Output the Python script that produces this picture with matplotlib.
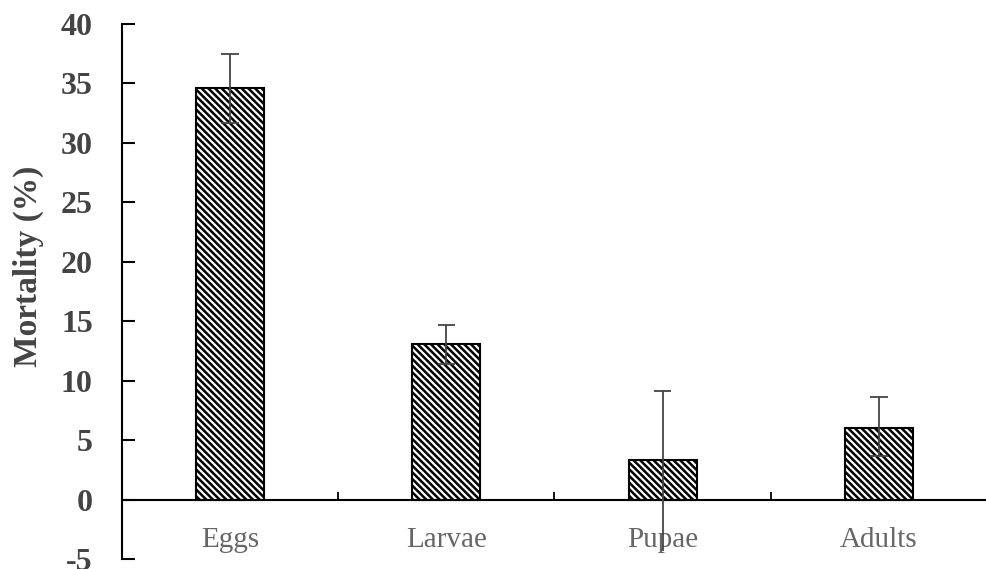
import numpy as np
import matplotlib.pyplot as plt

plt.rcParams['font.family'] = ['Liberation Serif', 'DejaVu Serif']
plt.rcParams['hatch.linewidth'] = 1.8

# mortality by stage
stages = ['Eggs', 'Larvae', 'Pupae', 'Adults']
mortality = [34.6, 13.05, 3.3, 6.0]
err_upper = [2.9, 1.65, 5.8, 2.6]
err_lower = [2.9, 1.65, 7.6, 2.35]

fig = plt.figure(figsize=(9.87, 5.69), dpi=100)
ax = fig.add_axes([0.1236, 0.0176, 0.8764, 0.9402])

x = np.arange(len(stages))
ax.bar(x, mortality, width=0.315, color='white', edgecolor='black',
       linewidth=1.5, hatch='\\\\\\\\\\', zorder=2)

# whiskers: the pupae one has no lower cap
upper = np.array(mortality) + np.array(err_upper)
lower = np.array(mortality) - np.array(err_lower)
ax.vlines(x, lower, upper, color='#444444', linewidth=1.3, zorder=3)
ax.hlines(upper, x - 0.04, x + 0.04, color='#444444', linewidth=1.3, zorder=3)
capped = [i for i in x if stages[i] != 'Pupae']
ax.hlines(lower[capped], x[capped] - 0.04, x[capped] + 0.04,
          color='#444444', linewidth=1.3, zorder=3)

ax.set_xlim(-0.5, 3.5)
ax.set_ylim(-5, 40)
ax.set_yticks(np.arange(-5, 41, 5))
ax.set_yticklabels([str(v) for v in range(-5, 41, 5)], fontsize=23,
                   fontweight='bold', color='#444444')

ax.spines['top'].set_visible(False)
ax.spines['right'].set_visible(False)
ax.spines['bottom'].set_position(('data', 0))
ax.spines['left'].set_linewidth(1.5)
ax.spines['bottom'].set_linewidth(1.5)

ax.tick_params(axis='y', direction='in', length=9, width=1.5, pad=21)
ax.set_xticks(np.arange(-0.5, 3.6, 1.0))
ax.set_xticklabels([])
ax.set_xticks(x, minor=True)
ax.set_xticklabels(stages, minor=True, fontsize=21, color='#666666')
ax.tick_params(axis='x', which='major', direction='in', length=6, width=1.3)
ax.tick_params(axis='x', which='minor', length=0, pad=20)

ax.set_ylabel('Mortality (%)', fontsize=24, fontweight='bold', color='#444444')
ax.yaxis.set_label_coords(-0.09, 0.548)

fig.savefig('out.png', dpi=100)
